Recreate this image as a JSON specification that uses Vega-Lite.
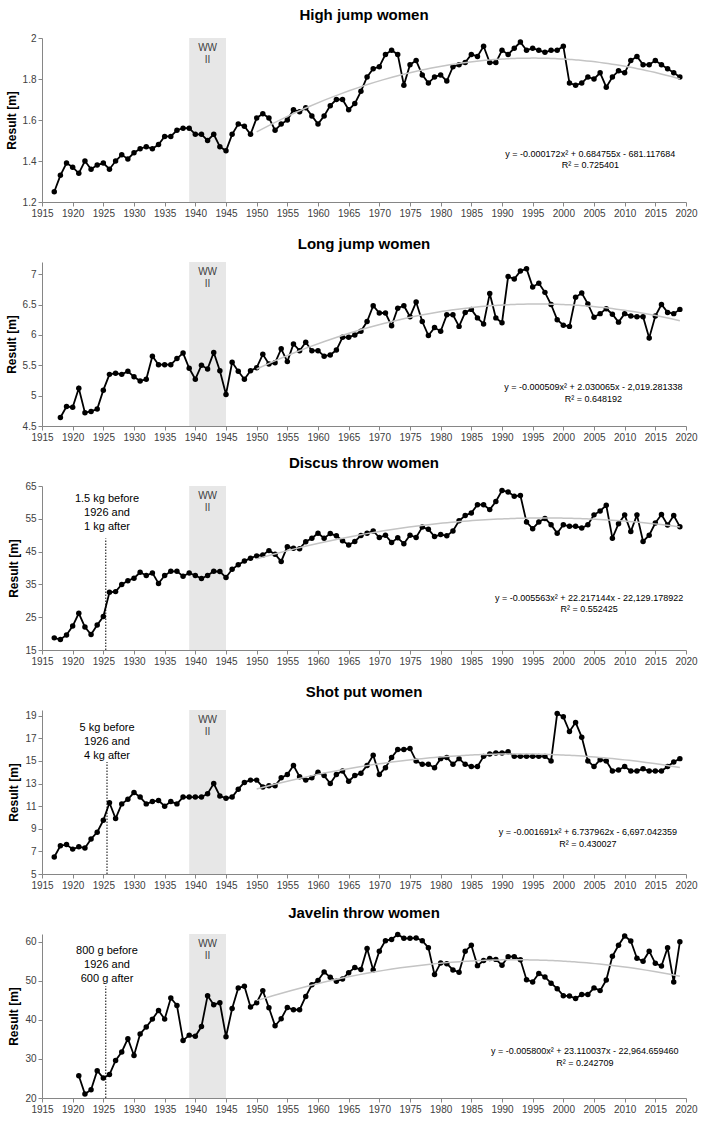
{
"$schema": "https://vega.github.io/schema/vega-lite/v6.json",
"padding": {"left": 5, "top": 8, "right": 3, "bottom": 4},
"spacing": 60,
"bounds": "flush",
"config": {
 "font": "Liberation Sans",
 "view": {"stroke": null},
 "axis": {"grid": false, "domainColor": "#868686", "tickColor": "#868686", "labelColor": "#404040", "labelFontSize": 10, "labelFont": "Liberation Sans", "titleFontSize": 12, "titleFontWeight": "bold", "titleColor": "#000000", "titleFont": "Liberation Sans", "tickSize": 4, "labelOverlap": false},
 "title": {"fontSize": 15, "fontWeight": "bold", "color": "#000000", "offset": 10, "anchor": "middle", "font": "Liberation Sans"}
},
"datasets": {
 "hj": [
  {"year":1917,"value":1.25},{"year":1918,"value":1.33},{"year":1919,"value":1.39},{"year":1920,"value":1.37},{"year":1921,"value":1.34},{"year":1922,"value":1.40},{"year":1923,"value":1.36},{"year":1924,"value":1.38},{"year":1925,"value":1.39},{"year":1926,"value":1.36},{"year":1927,"value":1.40},{"year":1928,"value":1.43},{"year":1929,"value":1.41},{"year":1930,"value":1.44},{"year":1931,"value":1.46},{"year":1932,"value":1.47},{"year":1933,"value":1.46},{"year":1934,"value":1.48},{"year":1935,"value":1.52},{"year":1936,"value":1.52},{"year":1937,"value":1.55},{"year":1938,"value":1.56},{"year":1939,"value":1.56},{"year":1940,"value":1.53},{"year":1941,"value":1.53},{"year":1942,"value":1.50},{"year":1943,"value":1.53},{"year":1944,"value":1.47},{"year":1945,"value":1.45},{"year":1946,"value":1.53},{"year":1947,"value":1.58},{"year":1948,"value":1.57},{"year":1949,"value":1.53},{"year":1950,"value":1.61},{"year":1951,"value":1.63},{"year":1952,"value":1.61},{"year":1953,"value":1.55},{"year":1954,"value":1.58},{"year":1955,"value":1.60},{"year":1956,"value":1.65},{"year":1957,"value":1.64},{"year":1958,"value":1.66},{"year":1959,"value":1.62},{"year":1960,"value":1.58},{"year":1961,"value":1.62},{"year":1962,"value":1.67},{"year":1963,"value":1.70},{"year":1964,"value":1.70},{"year":1965,"value":1.65},{"year":1966,"value":1.68},{"year":1967,"value":1.74},{"year":1968,"value":1.81},{"year":1969,"value":1.85},{"year":1970,"value":1.86},{"year":1971,"value":1.92},{"year":1972,"value":1.94},{"year":1973,"value":1.92},{"year":1974,"value":1.77},{"year":1975,"value":1.87},{"year":1976,"value":1.89},{"year":1977,"value":1.82},{"year":1978,"value":1.78},{"year":1979,"value":1.81},{"year":1980,"value":1.82},{"year":1981,"value":1.79},{"year":1982,"value":1.86},{"year":1983,"value":1.87},{"year":1984,"value":1.88},{"year":1985,"value":1.92},{"year":1986,"value":1.91},{"year":1987,"value":1.96},{"year":1988,"value":1.88},{"year":1989,"value":1.88},{"year":1990,"value":1.94},{"year":1991,"value":1.92},{"year":1992,"value":1.95},{"year":1993,"value":1.98},{"year":1994,"value":1.94},{"year":1995,"value":1.95},{"year":1996,"value":1.94},{"year":1997,"value":1.93},{"year":1998,"value":1.94},{"year":1999,"value":1.94},{"year":2000,"value":1.96},{"year":2001,"value":1.78},{"year":2002,"value":1.77},{"year":2003,"value":1.78},{"year":2004,"value":1.81},{"year":2005,"value":1.80},{"year":2006,"value":1.83},{"year":2007,"value":1.76},{"year":2008,"value":1.81},{"year":2009,"value":1.84},{"year":2010,"value":1.83},{"year":2011,"value":1.89},{"year":2012,"value":1.91},{"year":2013,"value":1.87},{"year":2014,"value":1.87},{"year":2015,"value":1.89},{"year":2016,"value":1.87},{"year":2017,"value":1.85},{"year":2018,"value":1.83},{"year":2019,"value":1.81}
 ],
 "lj": [
  {"year":1918,"value":4.64},{"year":1919,"value":4.82},{"year":1920,"value":4.81},{"year":1921,"value":5.12},{"year":1922,"value":4.72},{"year":1923,"value":4.74},{"year":1924,"value":4.78},{"year":1925,"value":5.09},{"year":1926,"value":5.35},{"year":1927,"value":5.37},{"year":1928,"value":5.35},{"year":1929,"value":5.40},{"year":1930,"value":5.31},{"year":1931,"value":5.24},{"year":1932,"value":5.27},{"year":1933,"value":5.65},{"year":1934,"value":5.51},{"year":1935,"value":5.51},{"year":1936,"value":5.51},{"year":1937,"value":5.61},{"year":1938,"value":5.70},{"year":1939,"value":5.45},{"year":1940,"value":5.27},{"year":1941,"value":5.50},{"year":1942,"value":5.44},{"year":1943,"value":5.71},{"year":1944,"value":5.41},{"year":1945,"value":5.02},{"year":1946,"value":5.55},{"year":1947,"value":5.40},{"year":1948,"value":5.27},{"year":1949,"value":5.41},{"year":1950,"value":5.46},{"year":1951,"value":5.68},{"year":1952,"value":5.52},{"year":1953,"value":5.54},{"year":1954,"value":5.77},{"year":1955,"value":5.56},{"year":1956,"value":5.85},{"year":1957,"value":5.74},{"year":1958,"value":5.88},{"year":1959,"value":5.74},{"year":1960,"value":5.74},{"year":1961,"value":5.65},{"year":1962,"value":5.67},{"year":1963,"value":5.75},{"year":1964,"value":5.96},{"year":1965,"value":5.96},{"year":1966,"value":6.00},{"year":1967,"value":6.06},{"year":1968,"value":6.22},{"year":1969,"value":6.48},{"year":1970,"value":6.36},{"year":1971,"value":6.36},{"year":1972,"value":6.15},{"year":1973,"value":6.44},{"year":1974,"value":6.48},{"year":1975,"value":6.30},{"year":1976,"value":6.54},{"year":1977,"value":6.22},{"year":1978,"value":5.99},{"year":1979,"value":6.12},{"year":1980,"value":6.06},{"year":1981,"value":6.33},{"year":1982,"value":6.33},{"year":1983,"value":6.14},{"year":1984,"value":6.37},{"year":1985,"value":6.42},{"year":1986,"value":6.28},{"year":1987,"value":6.18},{"year":1988,"value":6.68},{"year":1989,"value":6.28},{"year":1990,"value":6.20},{"year":1991,"value":6.96},{"year":1992,"value":6.92},{"year":1993,"value":7.05},{"year":1994,"value":7.09},{"year":1995,"value":6.79},{"year":1996,"value":6.85},{"year":1997,"value":6.70},{"year":1998,"value":6.50},{"year":1999,"value":6.25},{"year":2000,"value":6.16},{"year":2001,"value":6.14},{"year":2002,"value":6.62},{"year":2003,"value":6.69},{"year":2004,"value":6.51},{"year":2005,"value":6.29},{"year":2006,"value":6.35},{"year":2007,"value":6.43},{"year":2008,"value":6.34},{"year":2009,"value":6.21},{"year":2010,"value":6.35},{"year":2011,"value":6.31},{"year":2012,"value":6.30},{"year":2013,"value":6.30},{"year":2014,"value":5.95},{"year":2015,"value":6.31},{"year":2016,"value":6.50},{"year":2017,"value":6.37},{"year":2018,"value":6.35},{"year":2019,"value":6.42}
 ],
 "dt": [
  {"year":1917,"value":18.7},{"year":1918,"value":18.2},{"year":1919,"value":19.6},{"year":1920,"value":22.3},{"year":1921,"value":26.2},{"year":1922,"value":22.0},{"year":1923,"value":19.7},{"year":1924,"value":22.6},{"year":1925,"value":25.2},{"year":1926,"value":32.6},{"year":1927,"value":32.8},{"year":1928,"value":35.0},{"year":1929,"value":36.1},{"year":1930,"value":36.9},{"year":1931,"value":38.7},{"year":1932,"value":37.7},{"year":1933,"value":38.5},{"year":1934,"value":35.3},{"year":1935,"value":37.7},{"year":1936,"value":39.0},{"year":1937,"value":39.0},{"year":1938,"value":37.5},{"year":1939,"value":38.5},{"year":1940,"value":37.7},{"year":1941,"value":36.8},{"year":1942,"value":37.7},{"year":1943,"value":39.0},{"year":1944,"value":38.9},{"year":1945,"value":37.1},{"year":1946,"value":39.6},{"year":1947,"value":41.0},{"year":1948,"value":42.1},{"year":1949,"value":43.0},{"year":1950,"value":43.7},{"year":1951,"value":44.0},{"year":1952,"value":45.3},{"year":1953,"value":44.2},{"year":1954,"value":42.0},{"year":1955,"value":46.5},{"year":1956,"value":46.0},{"year":1957,"value":45.9},{"year":1958,"value":48.0},{"year":1959,"value":49.1},{"year":1960,"value":50.6},{"year":1961,"value":49.1},{"year":1962,"value":50.5},{"year":1963,"value":49.8},{"year":1964,"value":48.3},{"year":1965,"value":47.0},{"year":1966,"value":48.1},{"year":1967,"value":49.9},{"year":1968,"value":50.6},{"year":1969,"value":51.3},{"year":1970,"value":49.3},{"year":1971,"value":50.0},{"year":1972,"value":47.8},{"year":1973,"value":49.2},{"year":1974,"value":47.4},{"year":1975,"value":50.0},{"year":1976,"value":49.3},{"year":1977,"value":52.5},{"year":1978,"value":51.8},{"year":1979,"value":49.6},{"year":1980,"value":50.2},{"year":1981,"value":49.8},{"year":1982,"value":51.3},{"year":1983,"value":54.4},{"year":1984,"value":56.0},{"year":1985,"value":56.8},{"year":1986,"value":59.3},{"year":1987,"value":59.3},{"year":1988,"value":57.8},{"year":1989,"value":60.3},{"year":1990,"value":63.6},{"year":1991,"value":63.2},{"year":1992,"value":61.9},{"year":1993,"value":62.1},{"year":1994,"value":54.0},{"year":1995,"value":52.0},{"year":1996,"value":54.0},{"year":1997,"value":55.1},{"year":1998,"value":53.2},{"year":1999,"value":50.6},{"year":2000,"value":53.2},{"year":2001,"value":52.7},{"year":2002,"value":52.7},{"year":2003,"value":52.2},{"year":2004,"value":53.2},{"year":2005,"value":56.2},{"year":2006,"value":57.4},{"year":2007,"value":59.1},{"year":2008,"value":49.1},{"year":2009,"value":53.5},{"year":2010,"value":56.2},{"year":2011,"value":51.1},{"year":2012,"value":56.2},{"year":2013,"value":48.1},{"year":2014,"value":50.0},{"year":2015,"value":53.7},{"year":2016,"value":56.3},{"year":2017,"value":53.1},{"year":2018,"value":56.0},{"year":2019,"value":52.6}
 ],
 "sp": [
  {"year":1917,"value":6.5},{"year":1918,"value":7.5},{"year":1919,"value":7.6},{"year":1920,"value":7.2},{"year":1921,"value":7.4},{"year":1922,"value":7.3},{"year":1923,"value":8.1},{"year":1924,"value":8.7},{"year":1925,"value":9.75},{"year":1926,"value":11.3},{"year":1927,"value":9.9},{"year":1928,"value":11.2},{"year":1929,"value":11.6},{"year":1930,"value":12.2},{"year":1931,"value":11.8},{"year":1932,"value":11.2},{"year":1933,"value":11.4},{"year":1934,"value":11.5},{"year":1935,"value":11.0},{"year":1936,"value":11.4},{"year":1937,"value":11.2},{"year":1938,"value":11.8},{"year":1939,"value":11.8},{"year":1940,"value":11.8},{"year":1941,"value":11.8},{"year":1942,"value":12.1},{"year":1943,"value":13.0},{"year":1944,"value":11.9},{"year":1945,"value":11.7},{"year":1946,"value":11.8},{"year":1947,"value":12.5},{"year":1948,"value":13.1},{"year":1949,"value":13.3},{"year":1950,"value":13.3},{"year":1951,"value":12.7},{"year":1952,"value":12.8},{"year":1953,"value":12.8},{"year":1954,"value":13.5},{"year":1955,"value":13.8},{"year":1956,"value":14.6},{"year":1957,"value":13.6},{"year":1958,"value":13.3},{"year":1959,"value":13.5},{"year":1960,"value":14.0},{"year":1961,"value":13.7},{"year":1962,"value":13.0},{"year":1963,"value":13.8},{"year":1964,"value":14.1},{"year":1965,"value":13.2},{"year":1966,"value":13.7},{"year":1967,"value":13.9},{"year":1968,"value":14.6},{"year":1969,"value":15.5},{"year":1970,"value":13.8},{"year":1971,"value":14.4},{"year":1972,"value":15.3},{"year":1973,"value":16.0},{"year":1974,"value":16.0},{"year":1975,"value":16.1},{"year":1976,"value":15.0},{"year":1977,"value":14.7},{"year":1978,"value":14.7},{"year":1979,"value":14.4},{"year":1980,"value":15.2},{"year":1981,"value":15.3},{"year":1982,"value":14.7},{"year":1983,"value":15.2},{"year":1984,"value":14.7},{"year":1985,"value":14.5},{"year":1986,"value":14.5},{"year":1987,"value":15.4},{"year":1988,"value":15.6},{"year":1989,"value":15.7},{"year":1990,"value":15.7},{"year":1991,"value":15.8},{"year":1992,"value":15.4},{"year":1993,"value":15.4},{"year":1994,"value":15.4},{"year":1995,"value":15.4},{"year":1996,"value":15.4},{"year":1997,"value":15.4},{"year":1998,"value":15.0},{"year":1999,"value":19.2},{"year":2000,"value":18.9},{"year":2001,"value":17.6},{"year":2002,"value":18.4},{"year":2003,"value":17.1},{"year":2004,"value":15.0},{"year":2005,"value":14.5},{"year":2006,"value":15.1},{"year":2007,"value":15.0},{"year":2008,"value":14.1},{"year":2009,"value":14.2},{"year":2010,"value":14.5},{"year":2011,"value":14.1},{"year":2012,"value":14.1},{"year":2013,"value":14.3},{"year":2014,"value":14.1},{"year":2015,"value":14.1},{"year":2016,"value":14.1},{"year":2017,"value":14.5},{"year":2018,"value":14.9},{"year":2019,"value":15.2}
 ],
 "jt": [
  {"year":1921,"value":25.7},{"year":1922,"value":21.0},{"year":1923,"value":22.1},{"year":1924,"value":27.0},{"year":1925,"value":25.1},{"year":1926,"value":26.0},{"year":1927,"value":29.6},{"year":1928,"value":31.8},{"year":1929,"value":35.2},{"year":1930,"value":30.9},{"year":1931,"value":36.4},{"year":1932,"value":38.2},{"year":1933,"value":40.2},{"year":1934,"value":42.4},{"year":1935,"value":40.2},{"year":1936,"value":45.6},{"year":1937,"value":43.7},{"year":1938,"value":34.7},{"year":1939,"value":36.1},{"year":1940,"value":35.8},{"year":1941,"value":38.3},{"year":1942,"value":46.2},{"year":1943,"value":43.9},{"year":1944,"value":44.4},{"year":1945,"value":35.7},{"year":1946,"value":42.9},{"year":1947,"value":48.2},{"year":1948,"value":48.6},{"year":1949,"value":43.3},{"year":1950,"value":44.4},{"year":1951,"value":47.5},{"year":1952,"value":43.1},{"year":1953,"value":38.5},{"year":1954,"value":40.3},{"year":1955,"value":43.2},{"year":1956,"value":42.6},{"year":1957,"value":42.6},{"year":1958,"value":46.0},{"year":1959,"value":49.0},{"year":1960,"value":50.1},{"year":1961,"value":52.3},{"year":1962,"value":50.9},{"year":1963,"value":49.9},{"year":1964,"value":50.5},{"year":1965,"value":52.1},{"year":1966,"value":53.4},{"year":1967,"value":52.9},{"year":1968,"value":58.3},{"year":1969,"value":52.8},{"year":1970,"value":57.6},{"year":1971,"value":60.3},{"year":1972,"value":60.6},{"year":1973,"value":61.9},{"year":1974,"value":60.9},{"year":1975,"value":60.9},{"year":1976,"value":61.0},{"year":1977,"value":60.3},{"year":1978,"value":58.5},{"year":1979,"value":51.6},{"year":1980,"value":54.6},{"year":1981,"value":54.4},{"year":1982,"value":52.8},{"year":1983,"value":52.2},{"year":1984,"value":57.6},{"year":1985,"value":59.1},{"year":1986,"value":53.9},{"year":1987,"value":55.2},{"year":1988,"value":55.7},{"year":1989,"value":55.5},{"year":1990,"value":54.0},{"year":1991,"value":56.2},{"year":1992,"value":56.2},{"year":1993,"value":55.4},{"year":1994,"value":50.3},{"year":1995,"value":49.7},{"year":1996,"value":51.9},{"year":1997,"value":51.0},{"year":1998,"value":49.4},{"year":1999,"value":48.0},{"year":2000,"value":46.2},{"year":2001,"value":46.1},{"year":2002,"value":45.5},{"year":2003,"value":46.5},{"year":2004,"value":46.5},{"year":2005,"value":48.2},{"year":2006,"value":47.5},{"year":2007,"value":50.2},{"year":2008,"value":56.3},{"year":2009,"value":59.1},{"year":2010,"value":61.5},{"year":2011,"value":60.2},{"year":2012,"value":55.8},{"year":2013,"value":55.0},{"year":2014,"value":57.6},{"year":2015,"value":54.5},{"year":2016,"value":53.8},{"year":2017,"value":58.5},{"year":2018,"value":49.7},{"year":2019,"value":60.0}
 ]
},
"vconcat": [
 {
  "title": "High jump women",
  "width": 644, "height": 164,
  "layer": [
   {"data": {"values": [{"year": 1939, "year2": 1945}]}, "mark": {"type": "rect", "color": "#e7e7e7"}, "encoding": {"x": {"field": "year", "type": "quantitative", "title": null}, "x2": {"field": "year2"}}},
   {"data": {"values": [{}]}, "mark": {"type": "text", "text": "WW\nII", "lineBreak": "\n", "baseline": "top", "dy": 5, "fontSize": 10, "lineHeight": 12, "color": "#404040"}, "encoding": {"x": {"datum": 1942}, "y": {"datum": 2}}},
   {"data": {"name": "hj"}, "mark": {"type": "line", "color": "#000000", "strokeWidth": 1.8, "point": {"filled": true, "size": 30, "color": "#000000"}},
    "encoding": {"x": {"field": "year", "type": "quantitative", "title": null, "scale": {"domain": [1915, 2020], "nice": false, "zero": false}, "axis": {"values": [1915,1920,1925,1930,1935,1940,1945,1950,1955,1960,1965,1970,1975,1980,1985,1990,1995,2000,2005,2010,2015,2020], "tickCount": 40, "labelExpr": "'' + datum.value", "labelOverlap": false, "labelFlush": false}},
                 "y": {"field": "value", "type": "quantitative", "title": "Result [m]", "scale": {"domain": [1.2, 2], "nice": false, "zero": false}, "axis": {"values": [1.2,1.4,1.6,1.8,2], "tickCount": 20, "labelExpr": "'' + datum.value", "labelOverlap": false}}}},
   {"data": {"name": "hj"}, "transform": [{"filter": "datum.year >= 1950"}, {"regression": "value", "on": "year", "method": "poly", "order": 2}], "mark": {"type": "line", "color": "#c4c4c4", "strokeWidth": 1.5},
    "encoding": {"x": {"field": "year", "type": "quantitative", "title": null}, "y": {"field": "value", "type": "quantitative", "title": "Result [m]"}}},
   {"data": {"values": [{}]}, "mark": {"type": "text", "text": "y = -0.000172x² + 0.684755x - 681.117684\nR² = 0.725401", "lineBreak": "\n", "baseline": "middle", "align": "center", "fontSize": 9, "lineHeight": 11.5, "color": "#000000"}, "encoding": {"x": {"datum": 2004.4}, "y": {"datum": 1.436}}}
  ]
 },
 {
  "title": "Long jump women",
  "width": 644, "height": 164,
  "layer": [
   {"data": {"values": [{"year": 1939, "year2": 1945}]}, "mark": {"type": "rect", "color": "#e7e7e7"}, "encoding": {"x": {"field": "year", "type": "quantitative", "title": null}, "x2": {"field": "year2"}}},
   {"data": {"values": [{}]}, "mark": {"type": "text", "text": "WW\nII", "lineBreak": "\n", "baseline": "top", "dy": 5, "fontSize": 10, "lineHeight": 12, "color": "#404040"}, "encoding": {"x": {"datum": 1942}, "y": {"datum": 7.2}}},
   {"data": {"name": "lj"}, "mark": {"type": "line", "color": "#000000", "strokeWidth": 1.8, "point": {"filled": true, "size": 30, "color": "#000000"}},
    "encoding": {"x": {"field": "year", "type": "quantitative", "title": null, "scale": {"domain": [1915, 2020], "nice": false, "zero": false}, "axis": {"values": [1915,1920,1925,1930,1935,1940,1945,1950,1955,1960,1965,1970,1975,1980,1985,1990,1995,2000,2005,2010,2015,2020], "tickCount": 40, "labelExpr": "'' + datum.value", "labelOverlap": false, "labelFlush": false}},
                 "y": {"field": "value", "type": "quantitative", "title": "Result [m]", "scale": {"domain": [4.5, 7.2], "nice": false, "zero": false}, "axis": {"values": [4.5,5,5.5,6,6.5,7], "tickCount": 20, "labelExpr": "'' + datum.value", "labelOverlap": false}}}},
   {"data": {"name": "lj"}, "transform": [{"filter": "datum.year >= 1950"}, {"regression": "value", "on": "year", "method": "poly", "order": 2}], "mark": {"type": "line", "color": "#c4c4c4", "strokeWidth": 1.5},
    "encoding": {"x": {"field": "year", "type": "quantitative", "title": null}, "y": {"field": "value", "type": "quantitative", "title": "Result [m]"}}},
   {"data": {"values": [{}]}, "mark": {"type": "text", "text": "y = -0.000509x² + 2.030065x - 2,019.281338\nR² = 0.648192", "lineBreak": "\n", "baseline": "middle", "align": "center", "fontSize": 9, "lineHeight": 11.5, "color": "#000000"}, "encoding": {"x": {"datum": 2004.9}, "y": {"datum": 5.136}}}
  ]
 },
 {
  "title": "Discus throw women",
  "width": 644, "height": 164,
  "layer": [
   {"data": {"values": [{"year": 1939, "year2": 1945}]}, "mark": {"type": "rect", "color": "#e7e7e7"}, "encoding": {"x": {"field": "year", "type": "quantitative", "title": null}, "x2": {"field": "year2"}}},
   {"data": {"values": [{}]}, "mark": {"type": "text", "text": "WW\nII", "lineBreak": "\n", "baseline": "top", "dy": 5, "fontSize": 10, "lineHeight": 12, "color": "#404040"}, "encoding": {"x": {"datum": 1942}, "y": {"datum": 65}}},
   {"data": {"values": [{}]}, "mark": {"type": "rule", "color": "#000000", "strokeWidth": 1, "strokeDash": [1.5, 1.5]}, "encoding": {"x": {"datum": 1925.4}, "y": {"datum": 15}, "y2": {"datum": 49}}},
   {"data": {"values": [{}]}, "mark": {"type": "text", "text": "1.5 kg before\n1926 and\n1 kg after", "lineBreak": "\n", "baseline": "middle", "align": "center", "fontSize": 11, "lineHeight": 14, "color": "#000000"}, "encoding": {"x": {"datum": 1925.6}, "y": {"datum": 61}}},
   {"data": {"name": "dt"}, "mark": {"type": "line", "color": "#000000", "strokeWidth": 1.8, "point": {"filled": true, "size": 30, "color": "#000000"}},
    "encoding": {"x": {"field": "year", "type": "quantitative", "title": null, "scale": {"domain": [1915, 2020], "nice": false, "zero": false}, "axis": {"values": [1915,1920,1925,1930,1935,1940,1945,1950,1955,1960,1965,1970,1975,1980,1985,1990,1995,2000,2005,2010,2015,2020], "tickCount": 40, "labelExpr": "'' + datum.value", "labelOverlap": false, "labelFlush": false}},
                 "y": {"field": "value", "type": "quantitative", "title": "Result [m]", "scale": {"domain": [15, 65], "nice": false, "zero": false}, "axis": {"values": [15,25,35,45,55,65], "tickCount": 20, "labelExpr": "'' + datum.value", "labelOverlap": false}}}},
   {"data": {"name": "dt"}, "transform": [{"filter": "datum.year >= 1950"}, {"regression": "value", "on": "year", "method": "poly", "order": 2}], "mark": {"type": "line", "color": "#c4c4c4", "strokeWidth": 1.5},
    "encoding": {"x": {"field": "year", "type": "quantitative", "title": null}, "y": {"field": "value", "type": "quantitative", "title": "Result [m]"}}},
   {"data": {"values": [{}]}, "mark": {"type": "text", "text": "y = -0.005563x² + 22.217144x - 22,129.178922\nR² = 0.552425", "lineBreak": "\n", "baseline": "middle", "align": "center", "fontSize": 9, "lineHeight": 11.5, "color": "#000000"}, "encoding": {"x": {"datum": 2004.2}, "y": {"datum": 30.95}}}
  ]
 },
 {
  "title": "Shot put women",
  "width": 644, "height": 164,
  "layer": [
   {"data": {"values": [{"year": 1939, "year2": 1945}]}, "mark": {"type": "rect", "color": "#e7e7e7"}, "encoding": {"x": {"field": "year", "type": "quantitative", "title": null}, "x2": {"field": "year2"}}},
   {"data": {"values": [{}]}, "mark": {"type": "text", "text": "WW\nII", "lineBreak": "\n", "baseline": "top", "dy": 5, "fontSize": 10, "lineHeight": 12, "color": "#404040"}, "encoding": {"x": {"datum": 1942}, "y": {"datum": 19.5}}},
   {"data": {"values": [{}]}, "mark": {"type": "rule", "color": "#000000", "strokeWidth": 1, "strokeDash": [1.5, 1.5]}, "encoding": {"x": {"datum": 1925.6}, "y": {"datum": 5}, "y2": {"datum": 14.9}}},
   {"data": {"values": [{}]}, "mark": {"type": "text", "text": "5 kg before\n1926 and\n4 kg after", "lineBreak": "\n", "baseline": "middle", "align": "center", "fontSize": 11, "lineHeight": 14, "color": "#000000"}, "encoding": {"x": {"datum": 1925.6}, "y": {"datum": 17.9}}},
   {"data": {"name": "sp"}, "mark": {"type": "line", "color": "#000000", "strokeWidth": 1.8, "point": {"filled": true, "size": 30, "color": "#000000"}},
    "encoding": {"x": {"field": "year", "type": "quantitative", "title": null, "scale": {"domain": [1915, 2020], "nice": false, "zero": false}, "axis": {"values": [1915,1920,1925,1930,1935,1940,1945,1950,1955,1960,1965,1970,1975,1980,1985,1990,1995,2000,2005,2010,2015,2020], "tickCount": 40, "labelExpr": "'' + datum.value", "labelOverlap": false, "labelFlush": false}},
                 "y": {"field": "value", "type": "quantitative", "title": "Result [m]", "scale": {"domain": [5, 19.5], "nice": false, "zero": false}, "axis": {"values": [5,7,9,11,13,15,17,19], "tickCount": 20, "labelExpr": "'' + datum.value", "labelOverlap": false}}}},
   {"data": {"name": "sp"}, "transform": [{"filter": "datum.year >= 1950"}, {"regression": "value", "on": "year", "method": "poly", "order": 2}], "mark": {"type": "line", "color": "#c4c4c4", "strokeWidth": 1.5},
    "encoding": {"x": {"field": "year", "type": "quantitative", "title": null}, "y": {"field": "value", "type": "quantitative", "title": "Result [m]"}}},
   {"data": {"values": [{}]}, "mark": {"type": "text", "text": "y = -0.001691x² + 6.737962x - 6,697.042359\nR² = 0.430027", "lineBreak": "\n", "baseline": "middle", "align": "center", "fontSize": 9, "lineHeight": 11.5, "color": "#000000"}, "encoding": {"x": {"datum": 2004.0}, "y": {"datum": 8.69}}}
  ]
 },
 {
  "title": "Javelin throw women",
  "width": 644, "height": 164,
  "layer": [
   {"data": {"values": [{"year": 1939, "year2": 1945}]}, "mark": {"type": "rect", "color": "#e7e7e7"}, "encoding": {"x": {"field": "year", "type": "quantitative", "title": null}, "x2": {"field": "year2"}}},
   {"data": {"values": [{}]}, "mark": {"type": "text", "text": "WW\nII", "lineBreak": "\n", "baseline": "top", "dy": 5, "fontSize": 10, "lineHeight": 12, "color": "#404040"}, "encoding": {"x": {"datum": 1942}, "y": {"datum": 62}}},
   {"data": {"values": [{}]}, "mark": {"type": "rule", "color": "#000000", "strokeWidth": 1, "strokeDash": [1.5, 1.5]}, "encoding": {"x": {"datum": 1925.4}, "y": {"datum": 20}, "y2": {"datum": 48.6}}},
   {"data": {"values": [{}]}, "mark": {"type": "text", "text": "800 g before\n1926 and\n600 g after", "lineBreak": "\n", "baseline": "middle", "align": "center", "fontSize": 11, "lineHeight": 14, "color": "#000000"}, "encoding": {"x": {"datum": 1925.6}, "y": {"datum": 57.6}}},
   {"data": {"name": "jt"}, "mark": {"type": "line", "color": "#000000", "strokeWidth": 1.8, "point": {"filled": true, "size": 30, "color": "#000000"}},
    "encoding": {"x": {"field": "year", "type": "quantitative", "title": null, "scale": {"domain": [1915, 2020], "nice": false, "zero": false}, "axis": {"values": [1915,1920,1925,1930,1935,1940,1945,1950,1955,1960,1965,1970,1975,1980,1985,1990,1995,2000,2005,2010,2015,2020], "tickCount": 40, "labelExpr": "'' + datum.value", "labelOverlap": false, "labelFlush": false}},
                 "y": {"field": "value", "type": "quantitative", "title": "Result [m]", "scale": {"domain": [20, 62], "nice": false, "zero": false}, "axis": {"values": [20,30,40,50,60], "tickCount": 20, "labelExpr": "'' + datum.value", "labelOverlap": false}}}},
   {"data": {"name": "jt"}, "transform": [{"filter": "datum.year >= 1950"}, {"regression": "value", "on": "year", "method": "poly", "order": 2}], "mark": {"type": "line", "color": "#c4c4c4", "strokeWidth": 1.5},
    "encoding": {"x": {"field": "year", "type": "quantitative", "title": null}, "y": {"field": "value", "type": "quantitative", "title": "Result [m]"}}},
   {"data": {"values": [{}]}, "mark": {"type": "text", "text": "y = -0.005800x² + 23.110037x - 22,964.659460\nR² = 0.242709", "lineBreak": "\n", "baseline": "middle", "align": "center", "fontSize": 9, "lineHeight": 11.5, "color": "#000000"}, "encoding": {"x": {"datum": 2003.5}, "y": {"datum": 32.0}}}
  ]
 }
]
}
